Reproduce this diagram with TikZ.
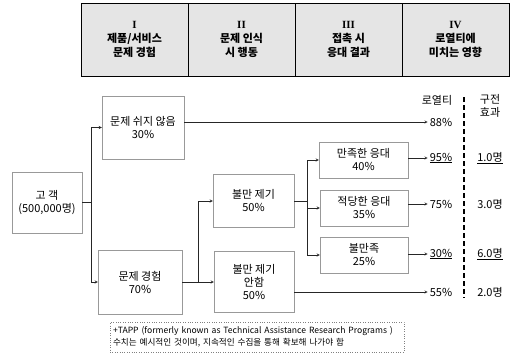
\documentclass[tikz,border=0pt]{standalone}
\usepackage{fontspec}
\setmainfont{Noto Sans CJK KR}
\newfontfamily\romfont{Liberation Serif}
\usetikzlibrary{calc}

\tikzset{
  stage/.style={draw, fill=gray!20, minimum width=107, minimum height=73,
    align=center, font=\fontsize{11}{14}\selectfont\bfseries},
  box/.style={draw=gray!80, align=center, inner sep=1pt,
    font=\fontsize{11}{13}\selectfont},
  val/.style={inner sep=2pt, font=\fontsize{11}{13}\selectfont},
  link/.style={->, >=stealth, black!85, thin},
}

\begin{document}
\begin{tikzpicture}[x=1pt,y=-1pt]
    \useasboundingbox (0,0) rectangle (516,353);

    \node[stage] (H1) at (134.5,39.5) {{\romfont I}\\제품/서비스\\문제 경험};
    \node[stage] (H2) at (241.5,39.5) {{\romfont II}\\문제 인식\\시 행동};
    \node[stage] (H3) at (348.5,39.5) {{\romfont III}\\접촉 시\\응대 결과};
    \node[stage] (H4) at (455.5,39.5) {{\romfont IV}\\로열티에\\미치는 영향};

    \node[box, minimum width=70, minimum height=61] (C0) at (47,202.5) {고 객\\(500,000명)};
    \node[box, minimum width=82, minimum height=63] (NP1) at (143,127.5) {문제 쉬지 않음\\30\%};
    \node[box, minimum width=84, minimum height=64] (PE1) at (140,282) {문제 경험\\70\%};
    \node[box, minimum width=81, minimum height=53] (CM2) at (253.5,201) {불만 제기\\50\%};
    \node[box, minimum width=80, minimum height=61] (NC2) at (254,282) {불만 제기\\안함\\50\%};
    \node[box, minimum width=89, minimum height=36] (SR3) at (363.5,160) {만족한 응대\\40\%};
    \node[box, minimum width=88, minimum height=36] (AR3) at (364,208) {적당한 응대\\35\%};
    \node[box, minimum width=88, minimum height=36] (DS3) at (364,255) {불만족\\25\%};

    \node[val] (L0) at (437,100) {로열티};
    \node[val] (R88) at (441,122) {88\%};
    \node[val] (R95) at (441,158) {\underline{95\%}};
    \node[val] (R75) at (441,204) {75\%};
    \node[val] (R30) at (441,254) {\underline{30\%}};
    \node[val] (R55) at (441,292) {55\%};

    \node[val, align=center] (W0) at (490,106) {구전\\효과};
    \node[val] (W10) at (490,158) {\underline{1.0명}};
    \node[val] (W30) at (490,204) {3.0명};
    \node[val] (W60) at (490,254) {\underline{6.0명}};
    \node[val] (W20) at (490,292) {2.0명};

    \coordinate (J0) at (91,202.5);
    \coordinate (J1) at (198,282);
    \coordinate (J2) at (307,201);
    \coordinate (D0) at (464,97);
    \coordinate (D1) at (464,298);

    \draw [link] (C0) -- (J0) |- (NP1);
    \draw [link] (J0) |- (PE1);
    \draw [link] (PE1) -- (J1) |- (CM2);
    \draw [link] (J1) -- (NC2);
    \draw [link] (CM2) -- (J2) |- (SR3);
    \draw [link] (J2) |- (AR3);
    \draw [link] (J2) |- (DS3);
    \draw [link] (NP1.east |- R88) -- (R88);
    \draw [link] (SR3.east |- R95) -- (R95);
    \draw [link] (AR3.east |- R75) -- (R75);
    \draw [link] (DS3.east |- R30) -- (R30);
    \draw [link] (NC2.east |- R55) -- (R55);

    \draw [line width=1.4pt, dash pattern=on 5pt off 3pt] (D0) -- (D1);

    \node[draw=gray, dotted, minimum width=294, minimum height=30, text width=288,
      inner sep=3pt, align=left, font=\fontsize{8.6}{12}\selectfont] (FN) at (257,337)
      {+TAPP (formerly known as Technical Assistance Research Programs )\\
       수치는 예시적인 것이며, 지속적인 수집을 통해 확보해 나가야 함};
\end{tikzpicture}
\end{document}
